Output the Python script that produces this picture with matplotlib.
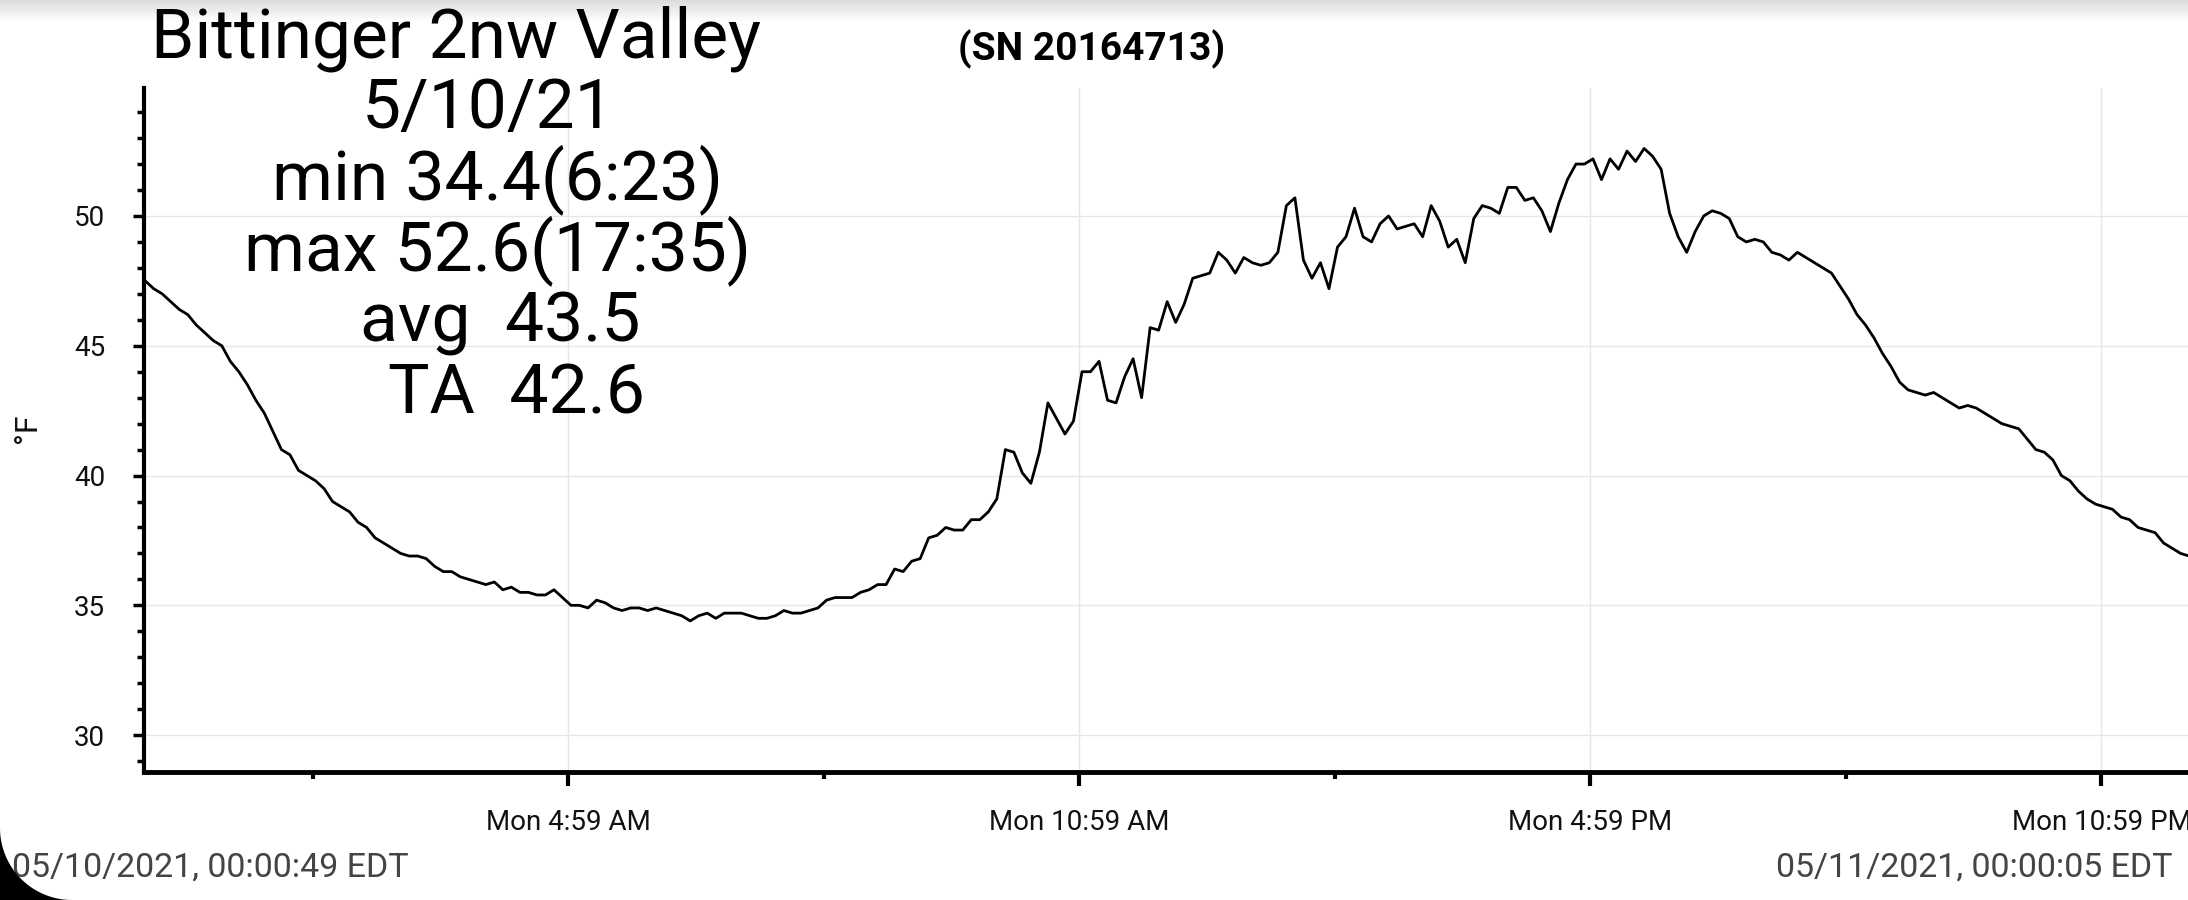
import numpy as np
import pandas as pd
import matplotlib
matplotlib.use("Agg")
import matplotlib.pyplot as plt
from matplotlib.patches import Polygon

plt.rcParams['font.family'] = ['Roboto', 'DejaVu Sans']

# temperature readings (deg F), logged every 6 min from 05/10/2021 00:00:49
temps = [
    47.5, 47.2, 47.0, 46.7, 46.4, 46.2, 45.8, 45.5, 45.2, 45.0,
    44.4, 44.0, 43.5, 42.9, 42.4, 41.7, 41.0, 40.8, 40.2, 40.0,
    39.8, 39.5, 39.0, 38.8, 38.6, 38.2, 38.0, 37.6, 37.4, 37.2,
    37.0, 36.9, 36.9, 36.8, 36.5, 36.3, 36.3, 36.1, 36.0, 35.9,
    35.8, 35.9, 35.6, 35.7, 35.5, 35.5, 35.4, 35.4, 35.6, 35.3,
    35.0, 35.0, 34.9, 35.2, 35.1, 34.9, 34.8, 34.9, 34.9, 34.8,
    34.9, 34.8, 34.7, 34.6, 34.4, 34.6, 34.7, 34.5, 34.7, 34.7,
    34.7, 34.6, 34.5, 34.5, 34.6, 34.8, 34.7, 34.7, 34.8, 34.9,
    35.2, 35.3, 35.3, 35.3, 35.5, 35.6, 35.8, 35.8, 36.4, 36.3,
    36.7, 36.8, 37.6, 37.7, 38.0, 37.9, 37.9, 38.3, 38.3, 38.6,
    39.1, 41.0, 40.9, 40.1, 39.7, 40.9, 42.8, 42.2, 41.6, 42.1,
    44.0, 44.0, 44.4, 42.9, 42.8, 43.8, 44.5, 43.0, 45.7, 45.6,
    46.7, 45.9, 46.6, 47.6, 47.7, 47.8, 48.6, 48.3, 47.8, 48.4,
    48.2, 48.1, 48.2, 48.6, 50.4, 50.7, 48.3, 47.6, 48.2, 47.2,
    48.8, 49.2, 50.3, 49.2, 49.0, 49.7, 50.0, 49.5, 49.6, 49.7,
    49.2, 50.4, 49.8, 48.8, 49.1, 48.2, 49.9, 50.4, 50.3, 50.1,
    51.1, 51.1, 50.6, 50.7, 50.2, 49.4, 50.5, 51.4, 52.0, 52.0,
    52.2, 51.4, 52.2, 51.8, 52.5, 52.1, 52.6, 52.3, 51.8, 50.1,
    49.2, 48.6, 49.4, 50.0, 50.2, 50.1, 49.9, 49.2, 49.0, 49.1,
    49.0, 48.6, 48.5, 48.3, 48.6, 48.4, 48.2, 48.0, 47.8, 47.3,
    46.8, 46.2, 45.8, 45.3, 44.7, 44.2, 43.6, 43.3, 43.2, 43.1,
    43.2, 43.0, 42.8, 42.6, 42.7, 42.6, 42.4, 42.2, 42.0, 41.9,
    41.8, 41.4, 41.0, 40.9, 40.6, 40.0, 39.8, 39.4, 39.1, 38.9,
    38.8, 38.7, 38.4, 38.3, 38.0, 37.9, 37.8, 37.4, 37.2, 37.0,
    36.9,
]
times = pd.date_range("2021-05-10 00:00:49", periods=len(temps), freq="6min")

tick_times = pd.to_datetime(["2021-05-10 04:59", "2021-05-10 10:59",
                             "2021-05-10 16:59", "2021-05-10 22:59"])
tick_labels = ["Mon 4:59 AM", "Mon 10:59 AM", "Mon 4:59 PM", "Mon 10:59 PM"]
minor_times = pd.to_datetime(["2021-05-10 01:59", "2021-05-10 07:59",
                              "2021-05-10 13:59", "2021-05-10 19:59"])
y_major = [30, 35, 40, 45, 50]
y_minor = list(range(29, 55))

title = "Bittinger 2nw Valley"
stats = ["5/10/21", "min 34.4(6:23)", "max 52.6(17:35)", "avg  43.5", "TA  42.6"]
serial = "(SN 20164713)"
start_label = "05/10/2021, 00:00:49 EDT"
end_label = "05/11/2021, 00:00:05 EDT"

W, H = 2188, 900
fig = plt.figure(figsize=(W / 100, H / 100), dpi=100)
fig.patch.set_facecolor("white")

def fx(px):
    return px / W

def fy(py):
    return 1 - py / H

ax = fig.add_axes([fx(144), fy(772), 1 - fx(144), (772 - 88) / H])
ax.plot(times, temps, color="black", lw=2.0)

ax.set_xlim(pd.Timestamp("2021-05-10 00:00:00"), pd.Timestamp("2021-05-11 00:00:00"))
ax.set_ylim(28.58, 54.93)

ax.set_xticks(tick_times)
ax.set_xticklabels(tick_labels)
ax.set_xticks(minor_times, minor=True)
ax.set_yticks(y_major)
ax.set_yticks(y_minor, minor=True)

ax.grid(True, which="major", color="#e6e6e6", lw=1.0)
ax.set_axisbelow(True)

for s in ["top", "right"]:
    ax.spines[s].set_visible(False)
ax.spines["left"].set_linewidth(3)
ax.spines["bottom"].set_linewidth(3.5)

ax.tick_params(axis="x", which="major", length=10, width=3, pad=17,
               labelsize=20, labelcolor="#111111")
ax.tick_params(axis="x", which="minor", length=5, width=3)
ax.tick_params(axis="y", which="major", length=8, width=2.5, pad=20,
               labelsize=20, labelcolor="#111111")
ax.tick_params(axis="y", which="minor", length=5, width=2.5)

fig.text(fx(28), fy(428), "°F", rotation=90, ha="center", va="center",
         fontsize=23, color="#111111")

# header text
fig.text(fx(456), fy(57), title, ha="center", va="baseline", fontsize=50)
stat_pos = [(488, 128), (498, 199), (498, 270), (500, 342), (516, 413)]
for line, (px, py) in zip(stats, stat_pos):
    fig.text(fx(px), fy(py), line, ha="center", va="baseline", fontsize=50)
fig.text(fx(1092), fy(60), serial, ha="center", va="baseline",
         fontsize=28, fontweight="bold")

fig.text(fx(12), fy(877), start_label, ha="left", va="baseline",
         fontsize=24.5, color="#444444")
fig.text(fx(2173), fy(877), end_label, ha="right", va="baseline",
         fontsize=24.5, color="#444444")

# top shadow of the screenshot
shade = fig.add_axes([0, fy(22), 1, 22 / H])
shade.imshow(np.linspace(0.86, 1.0, 50).reshape(-1, 1), cmap="gray",
             vmin=0, vmax=1, aspect="auto", extent=[0, 1, 0, 1])
shade.axis("off")

# rounded screen corner bottom-left
R = 72
corner = [(0, 0), (fx(R), 0)] + [(fx(R + R * np.cos(a)), fy(H - R - R * np.sin(a)))
                                 for a in np.linspace(1.5 * np.pi, np.pi, 40)]
fig.patches.append(Polygon(corner, closed=True, transform=fig.transFigure,
                           facecolor="black", edgecolor="none", zorder=10))

fig.savefig("out.png", dpi=100)
